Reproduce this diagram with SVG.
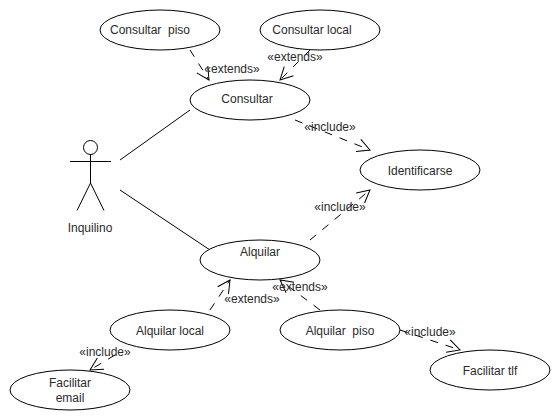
<svg xmlns="http://www.w3.org/2000/svg" width="560" height="420" viewBox="0 0 560 420">
<style>
text{font-family:"Liberation Sans",Arial,sans-serif;font-size:12px;fill:#2a2a2a;text-anchor:middle}
.n ellipse{fill:#fff;stroke:#000;stroke-width:1}
.l{fill:none;stroke:#000;stroke-width:1}
.d{fill:none;stroke:#000;stroke-width:1;stroke-dasharray:8 8;marker-end:url(#a)}
</style>
<defs>
<marker id="a" markerUnits="userSpaceOnUse" markerWidth="20" markerHeight="20" refX="15" refY="10" orient="auto" overflow="visible">
<path d="M2.500 3.500 L15 10 L2.500 16.500" fill="none" stroke="#000" stroke-width="1"/>
</marker>
</defs>
<g id="connectors">
<path class="l" d="M120 160 L190 110"/>
<path class="l" d="M120 190 L210 250"/>
<path class="d" d="M190 50 L209 80"/>
<path class="d" d="M310 50 L280 80"/>
<path class="d" d="M295 120 L370 150"/>
<path class="d" d="M310 240 L370 190"/>
<path class="d" d="M210 310 L230 280"/>
<path class="d" d="M320 310 L280 280"/>
<path class="d" d="M115 355 L90 370"/>
<path class="d" d="M400 330 L460 350"/>
</g>
<g id="actor-inquilino">
<circle class="l" cx="90.500" cy="147.500" r="7"/>
<path class="l" d="M90.500 154.500 V183 M70 161.500 H111 M77 210.500 L90.500 183 L104 210.500"/>
<text x="90" y="232">Inquilino</text>
</g>
<g id="consultar-piso" class="n"><ellipse cx="160" cy="30" rx="60" ry="20"/><text x="150" y="34" xml:space="preserve">Consultar  piso</text></g>
<g id="consultar-local" class="n"><ellipse cx="320" cy="30" rx="60" ry="20"/><text x="312" y="34">Consultar local</text></g>
<g id="consultar" class="n"><ellipse cx="250" cy="100" rx="60" ry="20"/><text x="247" y="103">Consultar</text></g>
<g id="identificarse" class="n"><ellipse cx="420" cy="170" rx="60" ry="20"/><text x="420" y="175">Identificarse</text></g>
<g id="alquilar" class="n"><ellipse cx="260" cy="260" rx="60" ry="20"/><text x="260" y="256">Alquilar</text></g>
<g id="alquilar-local" class="n"><ellipse cx="170" cy="330" rx="60" ry="20"/><text x="170" y="335">Alquilar local</text></g>
<g id="alquilar-piso" class="n"><ellipse cx="340" cy="330" rx="60" ry="20"/><text x="340" y="335" xml:space="preserve">Alquilar  piso</text></g>
<g id="facilitar-email" class="n"><ellipse cx="70" cy="390" rx="60" ry="20"/><text x="70" y="387">Facilitar</text><text x="70" y="402">email</text></g>
<g id="facilitar-tlf" class="n"><ellipse cx="490" cy="370" rx="60" ry="20"/><text x="490" y="375">Facilitar tlf</text></g>
<g id="labels">
<text x="232" y="73">«extends»</text>
<text x="295" y="61">«extends»</text>
<text x="330" y="131">«include»</text>
<text x="340" y="211">«include»</text>
<text x="252" y="303">«extends»</text>
<text x="300" y="291">«extends»</text>
<text x="105" y="356">«include»</text>
<text x="430" y="336">«include»</text>
</g>
</svg>
